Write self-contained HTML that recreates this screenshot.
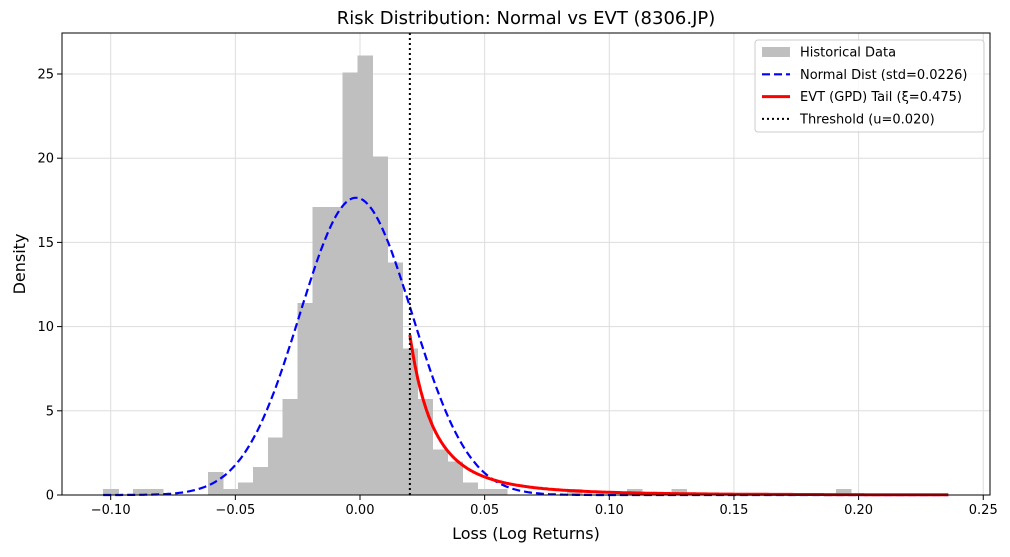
<!DOCTYPE html>
<html><head><meta charset="utf-8"><style>
body{margin:0;background:#fff;font-family:"Liberation Sans","DejaVu Sans",sans-serif}
svg text{font-family:"DejaVu Sans","Liberation Sans",sans-serif}
</style></head><body>
<svg id="c" width="1010" height="552" xmlns="http://www.w3.org/2000/svg"></svg>
<script>
const binStart = -0.103;
const binWidth = 0.006;
const histDensity = [0.36,0,0.36,0.36,0,0,0,1.37,0.36,0.73,1.66,3.4,5.7,11.4,17.1,17.1,25.1,26.1,20.1,13.8,8.7,5.7,2.7,2.0,0.73,0.36,0.36,0,0,0,0,0.36,0,0,0,0.36,0,0,0.36,0,0,0,0,0,0,0,0,0,0,0.36];
const normalMean = -0.0016;
const normalStd = 0.0226;
const gpdXi = 0.475;
const gpdSigma = 0.014;
const gpdTailProb = 0.133;
const threshold = 0.020;
const xTicks = [-0.10,-0.05,0.00,0.05,0.10,0.15,0.20,0.25];
const xTickLabels = ["−0.10","−0.05","0.00","0.05","0.10","0.15","0.20","0.25"];
const yTicks = [0,5,10,15,20,25];
const curveMin = -0.103, curveMax = 0.236;

const L=62,R=990,T=33,B=495;
const X=v=>360+v*2493;
const Y=v=>B-v*16.84;
const NS="http://www.w3.org/2000/svg";
const svg=document.getElementById('c');
function mk(tag,attrs,parent){const e=document.createElementNS(NS,tag);for(const k in attrs)e.setAttribute(k,attrs[k]);(parent||svg).appendChild(e);return e;}

const title=mk('text',{x:(L+R)/2,y:24,'text-anchor':'middle','font-size':18});


title.textContent='Risk Distribution: Normal vs EVT (8306.JP)';

const grid=mk('g',{});


xTicks.forEach(v=>mk('line',{x1:X(v),x2:X(v),y1:T,y2:B,stroke:'#ddd','stroke-width':1},grid));
yTicks.forEach(v=>mk('line',{x1:L,x2:R,y1:Y(v),y2:Y(v),stroke:'#ddd','stroke-width':1},grid));

const hist=mk('g',{'shape-rendering':'crispEdges'});


histDensity.forEach((d,i)=>{if(d<=0)return;const x0=X(binStart+i*binWidth),x1=X(binStart+(i+1)*binWidth);
const r=mk('rect',{x:x0,y:Y(d),width:x1-x0+0.6,height:B-Y(d),fill:'#bfbfbf'},hist);

});

let pts=[];
for(let i=0;i<=400;i++){const x=curveMin+(curveMax-curveMin)*i/400;const y=Math.exp(-0.5*((x-normalMean)/normalStd)**2)/(normalStd*Math.sqrt(2*Math.PI));pts.push(X(x).toFixed(1)+','+Y(y).toFixed(1));}
const nl=mk('polyline',{points:pts.join(' '),fill:'none',stroke:'#0000ff','stroke-width':2.2,'stroke-dasharray':'8,4'});



pts=[];
for(let i=0;i<=400;i++){const x=threshold+(curveMax-threshold)*i/400;const y=gpdTailProb/gpdSigma*Math.pow(1+gpdXi*(x-threshold)/gpdSigma,-1/gpdXi-1);pts.push(X(x).toFixed(1)+','+Y(y).toFixed(1));}
const gl=mk('polyline',{points:pts.join(' '),fill:'none',stroke:'#ff0000','stroke-width':3});



const th=mk('line',{x1:X(threshold),x2:X(threshold),y1:T,y2:B,stroke:'#000','stroke-width':2,'stroke-dasharray':'2,3'});



const frame=mk('rect',{x:L,y:T,width:R-L,height:B-T,fill:'none',stroke:'#000','stroke-width':1});



const xa=mk('g',{});


xTicks.forEach((v,i)=>{mk('line',{x1:X(v),x2:X(v),y1:B,y2:B+5,stroke:'#000'},xa);
const t=mk('text',{x:X(v),y:B+19,'text-anchor':'middle','font-size':13},xa);t.textContent=xTickLabels[i];});
const ya=mk('g',{});


yTicks.forEach(v=>{mk('line',{x1:L-5,x2:L,y1:Y(v),y2:Y(v),stroke:'#000'},ya);
const t=mk('text',{x:L-8,y:Y(v)+4.5,'text-anchor':'end','font-size':13},ya);t.textContent=v;});

const xt=mk('text',{x:(L+R)/2,y:539,'text-anchor':'middle','font-size':16});


xt.textContent='Loss (Log Returns)';
const yt=mk('text',{x:25,y:(T+B)/2,'text-anchor':'middle','font-size':16,transform:`rotate(-90 25 ${(T+B)/2})`});


yt.textContent='Density';

const lg=mk('g',{});


mk('rect',{x:755,y:40,width:229,height:92,rx:3,fill:'#fff','fill-opacity':0.85,stroke:'#ccc'},lg);
const items=[['hist','Historical Data'],['norm','Normal Dist (std=0.0226)'],['evt','EVT (GPD) Tail (ξ=0.475)'],['thr','Threshold (u=0.020)']];
items.forEach((it,i)=>{const y=52+i*22.3;
if(it[0]=='hist')mk('rect',{x:762,y:y-5,width:28,height:10,fill:'#bfbfbf'},lg);
if(it[0]=='norm')mk('line',{x1:762,x2:790,y1:y,y2:y,stroke:'#0000ff','stroke-width':2.2,'stroke-dasharray':'8,4'},lg);
if(it[0]=='evt')mk('line',{x1:762,x2:790,y1:y,y2:y,stroke:'#ff0000','stroke-width':3},lg);
if(it[0]=='thr')mk('line',{x1:762,x2:790,y1:y,y2:y,stroke:'#000','stroke-width':2,'stroke-dasharray':'2,3'},lg);
const t=mk('text',{x:800,y:y+4.5,'font-size':13},lg);


t.textContent=it[1];});
</script>
</body></html>
